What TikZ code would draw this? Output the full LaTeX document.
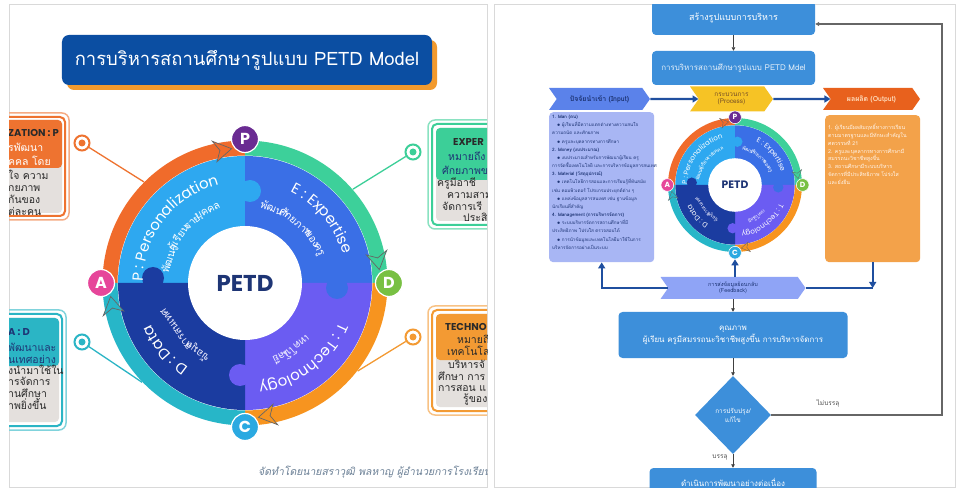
\documentclass[tikz,border=0pt]{standalone}
\usepackage{fontspec}
\usetikzlibrary{shapes.geometric,shapes.symbols,decorations.text,arrows.meta,calc}
\setmainfont[Script=Thai]{Loma}
\newfontfamily\pop{Poppins}
\definecolor{titleblue}{HTML}{0B4EA2}
\definecolor{titleorange}{HTML}{F29A2E}
\definecolor{ringA}{HTML}{F06B2B}
\definecolor{ringB}{HTML}{3DD09A}
\definecolor{ringC}{HTML}{F7941F}
\definecolor{ringD}{HTML}{27B6C8}
\definecolor{qTL}{HTML}{2EA8F0}
\definecolor{qTR}{HTML}{3A6FE6}
\definecolor{qBR}{HTML}{6B5CF2}
\definecolor{qBL}{HTML}{1B3CA0}
\definecolor{lP}{HTML}{6A2B92}
\definecolor{lD}{HTML}{78C043}
\definecolor{lC}{HTML}{2AA9E1}
\definecolor{lA}{HTML}{E6469A}
\definecolor{navy}{HTML}{1E3575}
\definecolor{flowblue}{HTML}{3D8FDA}
\definecolor{inblue}{HTML}{5B82EA}
\definecolor{inlist}{HTML}{A8B6F4}
\definecolor{procy}{HTML}{F6C325}
\definecolor{outor}{HTML}{E8611D}
\definecolor{outlist}{HTML}{F3A24A}
\definecolor{fbk}{HTML}{8FA4F6}
\definecolor{arrowblue}{HTML}{1F4F9F}
\definecolor{cardgray}{HTML}{E4E0DD}
\definecolor{cTL}{HTML}{EE7330}
\definecolor{cBL}{HTML}{2BB5C5}
\definecolor{cTR}{HTML}{3CCF98}
\definecolor{cBR}{HTML}{F39A33}
\definecolor{slate}{HTML}{6A7F95}
\definecolor{darktxt}{HTML}{2A2A2A}
\tikzset{
  fat/.style={draw=arrowblue, line width=2.2bp, -{Triangle[length=6bp,width=7bp]}},
  thinarrow/.style={draw=black!75, line width=0.8bp, -{Triangle[length=3.5bp,width=3.5bp]}},
  flowbox/.style={fill=flowblue, rounded corners=4bp, text=white, align=center, inner sep=2bp},
  chev/.style={signal, signal to=east, signal from=west, signal pointer angle=110, inner sep=1bp, align=center},
  bull/.style={circle, draw=#1, line width=2bp, fill=white, minimum size=15bp, inner sep=0pt,
    path picture={\fill[#1] (path picture bounding box.center) circle (3.5bp);}},
  cardtxt/.style={anchor=base west, inner sep=0pt, font=\fontsize{10.5}{12}\selectfont},
  cardhead/.style={anchor=base west, inner sep=0pt, font=\pop\bfseries\fontsize{10}{12}\selectfont},
}
\newcommand\petdwheel[4]{%
\begin{scope}[shift={(#1,-#2)}, scale=#3, name prefix=#4]
\pgfmathsetmacro\rw{15*#3}%
\pgfmathsetmacro\fe{15*#3}%
\pgfmathsetmacro\ft{10.5*#3}%
\pgfmathsetmacro\fl{16*#3}%
\pgfmathsetmacro\fc{23*#3}%
\pgfmathsetmacro\lsz{27*#3}%
\pgfmathsetmacro\aw{0.7*#3}%
\pgfmathsetmacro\lw{1.2*#3}%
\fill[qTL] (0,0) -- (180:127) arc[start angle=180,end angle=90,radius=127] -- cycle;
\fill[qTR] (0,0) -- (90:127) arc[start angle=90,end angle=0,radius=127] -- cycle;
\fill[qBR] (0,0) -- (0:127) arc[start angle=0,end angle=-90,radius=127] -- cycle;
\fill[qBL] (0,0) -- (-90:127) arc[start angle=-90,end angle=-180,radius=127] -- cycle;
\fill[qTL] (5,92) circle[radius=11];
\fill[qTR] (92,-5) circle[radius=11];
\fill[qBR] (-5,-92) circle[radius=11];
\fill[qBL] (-92,5) circle[radius=11];
\fill[white] (0,0) circle[radius=57];
\node[inner sep=0, text=navy, font=\pop\bfseries\fontsize{\fc}{\fc}\selectfont] (ctr) at (0,0) {PETD};
\draw[ringA, line width=\rw bp] (180:135) arc[start angle=180,end angle=90,radius=135];
\draw[ringB, line width=\rw bp] (90:135) arc[start angle=90,end angle=0,radius=135];
\draw[ringC, line width=\rw bp] (0:135) arc[start angle=0,end angle=-90,radius=135];
\draw[ringD, line width=\rw bp] (-90:135) arc[start angle=-90,end angle=-180,radius=135];
\foreach \an/\co in {100/ringA,10/ringB,-80/ringC,190/ringD}
  \filldraw[fill=\co, draw=black!60, line width=\aw bp] ({\an-4.3}:135) -- ({\an+3}:145.5) -- ({\an+0.7}:135) -- ({\an+3}:124.5) -- cycle;
\path[decorate, decoration={text along path, text align=center, text color=white, text={|\pop\fontsize{\fe}{\fe}\selectfont|P : Personalization}}] (218:102) arc[start angle=218,end angle=66,radius=102];
\path[decorate, decoration={text along path, text align=center, text color=white, text={|\pop\fontsize{\fe}{\fe}\selectfont|E : Expertise}}] (105:102) arc[start angle=105,end angle=-25,radius=102];
\path[decorate, decoration={text along path, text align=center, text color=white, text={|\pop\fontsize{\fe}{\fe}\selectfont|T : Technology}}] (15:102) arc[start angle=15,end angle=-120,radius=102];
\path[decorate, decoration={text along path, text align=center, text color=white, text={|\pop\fontsize{\fe}{\fe}\selectfont|D : Data}}] (285:102) arc[start angle=285,end angle=155,radius=102];
\foreach \a/\tx [count=\i] in {162.2/พัฒนา,145.5/ผู้เรียน,131/ราย,117.4/บุคคล,68.2/พัฒนา,50/ศักยภาพ,33.6/ของ,24.2/ครู}
  \node[inner sep=0, text=white, font=\fontsize{\ft}{\ft}\selectfont, rotate={\a-90}] (tt\i) at (\a:80) {\tx};
\foreach \a/\tx [count=\i] in {-51/เทคโน,-63.5/โลยี,235/ข้อมูล,214/สารสนเทศ}
  \node[inner sep=0, text=white!90!qBR, font=\fontsize{\ft}{\ft}\selectfont, rotate={\a-90}] (tb\i) at (\a:83) {\tx};
\node[circle, fill=lP, draw=white, line width=\lw bp, minimum size=\lsz bp, inner sep=0, text=white, font=\pop\bfseries\fontsize{\fl}{\fl}\selectfont] (P) at (90:144) {P};
\node[circle, fill=lD, draw=white, line width=\lw bp, minimum size=\lsz bp, inner sep=0, text=white, font=\pop\bfseries\fontsize{\fl}{\fl}\selectfont] (D) at (0:144) {D};
\node[circle, fill=lC, draw=white, line width=\lw bp, minimum size=\lsz bp, inner sep=0, text=white, font=\pop\bfseries\fontsize{\fl}{\fl}\selectfont] (C) at (-90:144) {C};
\node[circle, fill=lA, draw=white, line width=\lw bp, minimum size=\lsz bp, inner sep=0, text=white, font=\pop\bfseries\fontsize{\fl}{\fl}\selectfont] (A) at (180:144) {A};
\coordinate (tl) at (135:143);
\coordinate (tr) at (41:143);
\coordinate (br) at (-38:143);
\coordinate (bl) at (224:143);
\end{scope}}
\begin{document}
\begin{tikzpicture}[x=1bp,y=1bp]
\useasboundingbox (0,0) rectangle (960,-489);
\fill[white] (0,0) rectangle (960,-489);
\draw[black!15, line width=1bp] (9,-5) rectangle (487,-487);
\draw[black!15, line width=1bp] (494,-5) rectangle (955,-487);
% ================= LEFT PANEL =================
\begin{scope}
\clip (9,-5) rectangle (487,-487);
\fill[titleorange, rounded corners=7bp] (67,-40) rectangle (437,-90);
\node[fill=titleblue, rounded corners=7bp, minimum width=370bp, minimum height=50bp, text=white, font=\fontsize{18.5}{22}\selectfont] (title) at (247,-60) {การบริหารสถานศึกษารูปแบบ PETD Model};
% cards
\draw[cTL!60, line width=1.5bp, rounded corners=7bp] (-62,-113) rectangle (69,-220);
\draw[cTL, line width=2bp, fill=white, rounded corners=5bp] (-58,-117) rectangle (65,-216);
\fill[cardgray, rounded corners=4bp] (-55,-120) rectangle (62,-213);
\fill[cTL, rounded corners=4bp] (-55,-120) rectangle (62,-168);
\node[cardhead, text=darktxt] (tl1) at (8,-136.5) {ZATION : P};
\foreach \yy/\tx/\co [count=\i from 2] in {151.5/รพัฒนา/white,165.5/คคล โดย/white,179.5/ใจ ความ/darktxt,191.5/กยภาพ/darktxt,203.5/กันของ/darktxt,215.5/ต่ละคน/darktxt}
  \node[cardtxt, text=\co] (tl\i) at (8,-\yy) {\tx};
\draw[cBL!60, line width=1.5bp, rounded corners=7bp] (-62,-310) rectangle (66,-430);
\draw[cBL, line width=2bp, fill=white, rounded corners=5bp] (-58,-314) rectangle (62,-426);
\fill[cardgray, rounded corners=4bp] (-55,-318) rectangle (59,-422);
\fill[cBL, rounded corners=4bp] (-55,-318) rectangle (59,-366);
\node[cardhead, text=navy] (bl1) at (8,-335.5) {A : D};
\foreach \yy/\tx/\co [count=\i from 2] in {351.5/พัฒนาและ/navy,363.5/นเทศอย่าง/navy,374.5/งนำมาใช้ใน/darktxt,385.5/ารจัดการ/darktxt,397.5/านศึกษา/darktxt,409.5/าพยิ่งขึ้น/darktxt}
  \node[cardtxt, text=\co] (bl\i) at (8,-\yy) {\tx};
\draw[cTR!60, line width=1.5bp, rounded corners=7bp] (428,-120) rectangle (560,-229);
\draw[cTR, line width=2bp, fill=white, rounded corners=5bp] (432,-124) rectangle (560,-225);
\fill[cardgray, rounded corners=4bp] (436,-128) rectangle (560,-221);
\fill[cTR, rounded corners=4bp] (436,-128) rectangle (560,-180);
\node[cardhead, text=darktxt] (tr1) at (453,-145.5) {EXPER};
\foreach \xx/\yy/\tx/\co [count=\i from 2] in {448/160.5/หมายถึง/navy,442/174.5/ศักยภาพข/navy,437/186.5/ครูมีอาชี/darktxt,447/198.5/ความสาม/darktxt,442/210.5/จัดการเรี/darktxt,463/221.5/ประสิ/darktxt}
  \node[cardtxt, text=\co] (tr\i) at (\xx,-\yy) {\tx};
\draw[cBR!60, line width=1.5bp, rounded corners=7bp] (428,-306) rectangle (560,-415);
\draw[cBR, line width=2bp, fill=white, rounded corners=5bp] (432,-310) rectangle (560,-411);
\fill[cardgray, rounded corners=4bp] (436,-314) rectangle (560,-407);
\fill[cBR, rounded corners=4bp] (436,-314) rectangle (560,-360);
\node[cardhead, text=darktxt] (br1) at (445,-330.5) {TECHNO};
\foreach \xx/\yy/\tx/\co [count=\i from 2] in {457/343.5/หมายถึ/darktxt,447/355.5/เทคโนโลยี/darktxt,448/368.5/บริหารจั/darktxt,438/380.5/ศึกษา การ/darktxt,438/391.5/การสอน แ/darktxt,463/402.5/รู้ของ/darktxt}
  \node[cardtxt, text=\co] (br\i) at (\xx,-\yy) {\tx};
% wheel
\petdwheel{245}{283}{1}{w-}
\node[bull=cTL] (btl) at (82,-143) {};
\node[bull=cBL] (bbl) at (82,-342) {};
\node[bull=cTR] (btr) at (413,-152) {};
\node[bull=cBR] (bbr) at (413,-337) {};
\draw[cTL, line width=1.3bp] (btl) -- (w-tl);
\draw[cBL, line width=1.3bp] (bbl) -- (w-bl);
\draw[cTR, line width=1.3bp] (btr) -- (w-tr);
\draw[cBR, line width=1.3bp] (bbr) -- (w-br);
\node[anchor=west, inner sep=0, font=\fontsize{10.5}{12}\selectfont\itshape, text=slate] (foot) at (258,-472) {จัดทำโดยนายสราวุฒิ พลหาญ ผู้อำนวยการโรงเรียน};
\end{scope}
% ================= RIGHT PANEL =================
\begin{scope}
\clip (494,-5) rectangle (955,-487);
\node[flowbox, minimum width=163bp, minimum height=34bp, font=\fontsize{9}{11}\selectfont] (b1) at (733.5,-18) {สร้างรูปแบบการบริหาร};
\node[flowbox, minimum width=163bp, minimum height=34bp, font=\fontsize{8}{10}\selectfont, text=white!85!flowblue] (b2) at (733.5,-68) {การบริหารสถานศึกษารูปแบบ PETD Mdel};
\draw[thinarrow] (b1) -- (b2);
\node[chev, fill=inblue, minimum width=101bp, minimum height=22bp, text=navy, font=\fontsize{7}{8}\selectfont\bfseries] (inp) at (599.5,-99) {ปัจจัยนำเข้า (Input)};
\node[chev, fill=procy, minimum width=83bp, minimum height=25bp, text=brown!60!black, font=\fontsize{6.5}{7.5}\selectfont] (proc) at (731.5,-99) {กระบวนการ\\(Process)};
\node[chev, fill=outor, minimum width=97bp, minimum height=22bp, text=orange!25, font=\fontsize{7}{8}\selectfont\bfseries] (outp) at (871.5,-99) {ผลผลิต (Output)};
\draw[fat] (inp) -- (proc);
\draw[fat] (proc) -- (outp);
\node[fill=inlist, rounded corners=4bp, minimum width=105bp, minimum height=150bp, anchor=north west, inner sep=0] (inbox) at (549,-112) {};
\node[anchor=north west, inner sep=0, align=left, font=\fontsize{4.6}{8.2}\selectfont, text=navy] (intext) at (552,-115) {\textbf{1. Man (คน)}\\
\quad$\bullet$ ผู้เรียนที่มีความแตกต่างทางความสนใจ\\
ความถนัด และศักยภาพ\\
\quad$\bullet$ ครูและบุคลากรทางการศึกษา\\
\textbf{2. Money (งบประมาณ)}\\
\quad$\bullet$ งบประมาณสำหรับการพัฒนาผู้เรียน ครู\\
การจัดซื้อเทคโนโลยี และการบริหารข้อมูลสารสนเทศ\\
\textbf{3. Material (วัสดุอุปกรณ์)}\\
\quad$\bullet$ เทคโนโลยีการสอนและการเรียนรู้ที่ทันสมัย\\
เช่น คอมพิวเตอร์ โปรแกรมประยุกต์ต่าง ๆ\\
\quad$\bullet$ แหล่งข้อมูลสารสนเทศ เช่น ฐานข้อมูล\\
นักเรียนที่สำคัญ\\
\textbf{4. Management (การบริหารจัดการ)}\\
\quad$\bullet$ ระบบบริหารจัดการสถานศึกษาที่มี\\
ประสิทธิภาพ โปร่งใส ตรวจสอบได้\\
\quad$\bullet$ การนำข้อมูลและเทคโนโลยีมาใช้ในการ\\
บริหารจัดการอย่างเป็นระบบ};
\node[fill=outlist, rounded corners=4bp, minimum width=95bp, minimum height=147bp, anchor=north west, inner sep=0] (outbox) at (825,-115) {};
\node[anchor=north west, inner sep=0, align=left, font=\fontsize{5.3}{7.8}\selectfont, text=white!92!orange] (outtext) at (828,-124) {1. ผู้เรียนมีผลสัมฤทธิ์ทางการเรียน\\ตามมาตรฐานและมีทักษะสำคัญใน\\ศตวรรษที่ 21\\2. ครูและบุคลากรทางการศึกษามี\\สมรรถนะวิชาชีพสูงขึ้น\\3. สถานศึกษามีระบบบริหาร\\จัดการที่มีประสิทธิภาพ โปร่งใส\\และยั่งยืน};
\petdwheel{735}{185}{0.47}{s-}
\node[chev, fill=fbk, minimum width=145bp, minimum height=22bp, text=navy, font=\fontsize{5.5}{6.5}\selectfont] (fb) at (733,-288) {การส่งข้อมูลย้อนกลับ\\(Feedback)};
\draw[fat] (fb.west) -| (inbox.south);
\draw[fat] (s-C.south |- fb.north) -- (s-C.south);
\coordinate (fbr) at (outbox.south |- fb.east);
\draw[fat] (outbox.south) -- (fbr);
\draw[draw=arrowblue, line width=2.2bp] (fb.east) -- (fbr);
\node[flowbox, minimum width=229bp, minimum height=46bp, font=\fontsize{8}{12}\selectfont] (q) at (733,-335) {คุณภาพ\\ผู้เรียน ครูมีสมรรถนะวิชาชีพสูงขึ้น การบริหารจัดการ};
\draw[thinarrow] (fb.south) -- (q.north);
\node[diamond, fill=flowblue, minimum width=76bp, minimum height=78bp, inner sep=0, text=white, font=\fontsize{6.5}{9}\selectfont, align=center] (dec) at (733,-415) {การปรับปรุง/\\แก้ไข};
\draw[thinarrow] (q.south) -- (dec.north);
\node[flowbox, minimum width=167bp, minimum height=28bp, font=\fontsize{8}{10}\selectfont] (fin) at (733,-482) {ดำเนินการพัฒนาอย่างต่อเนื่อง};
\draw[thinarrow] (dec.south) -- (fin.north);
\node[font=\fontsize{6.5}{8}\selectfont, text=black!70] (yes) at (720,-458) {บรรลุ};
\coordinate (loopR) at (942,-415);
\draw[black!60, line width=1.2bp, -{Triangle[length=4bp,width=4bp]}] (dec.east) -- (loopR) |- ($(b1.east)+(0,-6)$);
\node[font=\fontsize{6.5}{8}\selectfont, text=black!70] (no) at (828,-403) {ไม่บรรลุ};
\end{scope}
\end{tikzpicture}
\end{document}
